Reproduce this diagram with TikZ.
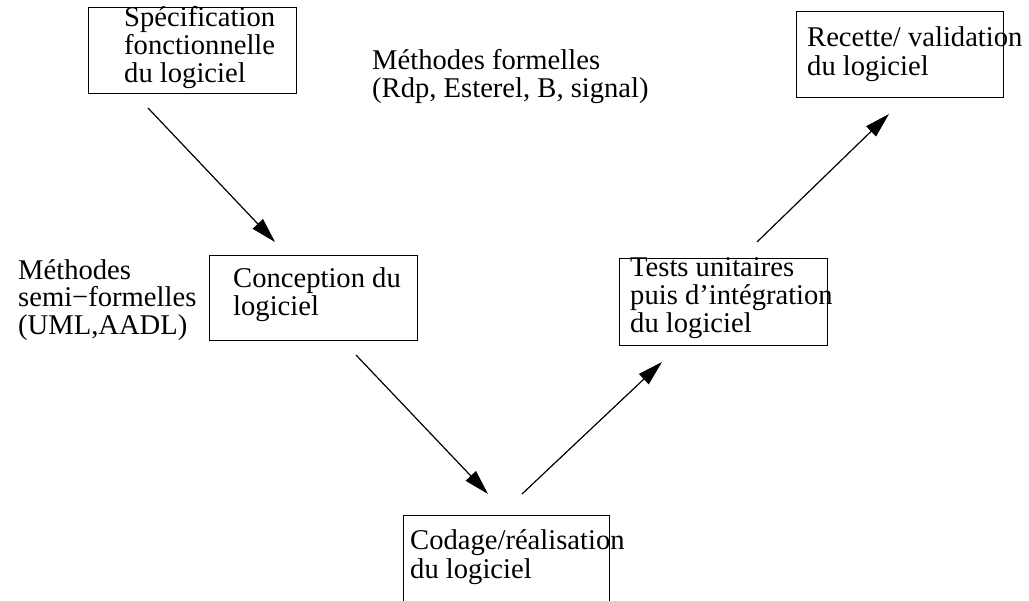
\documentclass[tikz,border=0pt]{standalone}
\usepackage{fontspec}
\setmainfont{Liberation Serif}
\usetikzlibrary{arrows.meta}
\begin{document}
\begin{tikzpicture}[x=1pt,y=-1pt,
  frame/.style={draw,line width=1pt,inner sep=0pt,anchor=north west},
  txt/.style={anchor=base west,inner sep=0pt,font=\fontsize{28.6}{29}\selectfont},
  flow/.style={line width=1.2pt,-{Triangle[length=25pt,width=14pt]}}]
\useasboundingbox (0,0) rectangle (1029,601);
\clip (0,0) rectangle (1029,601);

% phase boxes
\node[frame,minimum width=208pt,minimum height=86pt] (spec) at (88,7) {};
\node[frame,minimum width=207pt,minimum height=86pt] (recette) at (796,11) {};
\node[frame,minimum width=208pt,minimum height=85pt] (concep) at (209,255) {};
\node[frame,minimum width=208pt,minimum height=87pt] (tests) at (619,258) {};
\node[frame,minimum width=206pt,minimum height=100pt] (codage) at (403,515) {};

% box texts
\node[txt] (spec1) at (124,27) {Spécification};
\node[txt] (spec2) at (124,55) {fonctionnelle};
\node[txt] (spec3) at (124,83) {du logiciel};

\node[txt] (rec1) at (807,47) {Recette/ validation};
\node[txt] (rec2) at (807,76) {du logiciel};

\node[txt] (con1) at (233,288) {Conception du};
\node[txt] (con2) at (233,316) {logiciel};

\node[txt] (tst1) at (630,277) {Tests unitaires};
\node[txt] (tst2) at (630,305) {puis d'intégration};
\node[txt] (tst3) at (630,333) {du logiciel};

\node[txt] (cod1) at (410,550) {Codage/réalisation};
\node[txt] (cod2) at (410,579) {du logiciel};

% method annotations
\node[txt] (mf1) at (372,70) {Méthodes formelles};
\node[txt] (mf2) at (372,98) {(Rdp, Esterel, B, signal)};

\node[txt] (ms1) at (18,280) {Méthodes};
\node[txt] (ms2) at (18,307) {semi−formelles};
\node[txt] (ms3) at (18,335) {(UML,AADL)};

% arrow end points of the V cycle
\coordinate (a1s) at (148,108);
\coordinate (a1e) at (275,242);
\coordinate (a2s) at (356,355);
\coordinate (a2e) at (488,494);
\coordinate (a3s) at (522,494);
\coordinate (a3e) at (662,362);
\coordinate (a4s) at (757,242);
\coordinate (a4e) at (889,114);

\draw[flow] (a1s) -- (a1e);
\draw[flow] (a2s) -- (a2e);
\draw[flow] (a3s) -- (a3e);
\draw[flow] (a4s) -- (a4e);
\end{tikzpicture}
\end{document}
